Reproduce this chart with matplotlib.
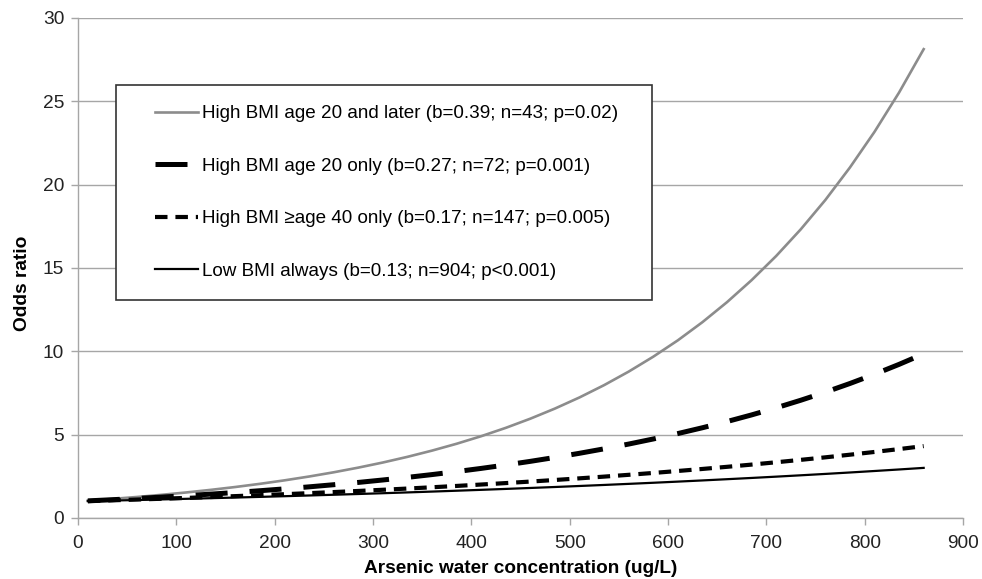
import matplotlib
matplotlib.use('Agg')
from matplotlib import pyplot as plt
from matplotlib.patches import Rectangle

plt.rcParams['font.family'] = ['Liberation Sans', 'DejaVu Sans']

# arsenic concentration (ug/L) and odds ratio values
arsenic = [10, 35, 60, 85, 110, 135, 160, 185, 210, 235, 260, 285, 310, 335, 360, 385,
           410, 435, 460, 485, 510, 535, 560, 585, 610, 635, 660, 685, 710, 735, 760,
           785, 810, 835, 860]

or_high_later = [1.04, 1.145, 1.262, 1.391, 1.532, 1.688, 1.86, 2.05, 2.259, 2.489, 2.742,
                 3.022, 3.329, 3.669, 4.043, 4.454, 4.908, 5.408, 5.959, 6.566, 7.234,
                 7.971, 8.783, 9.678, 10.66, 11.75, 12.95, 14.27, 15.72, 17.32, 19.08,
                 21.03, 23.17, 25.53, 28.13]
or_high_20 = [1.027, 1.098, 1.173, 1.254, 1.34, 1.432, 1.531, 1.636, 1.748, 1.869, 1.997,
              2.134, 2.281, 2.438, 2.605, 2.785, 2.976, 3.181, 3.399, 3.633, 3.883, 4.15,
              4.436, 4.741, 5.066, 5.415, 5.787, 6.185, 6.61, 7.065, 7.551, 8.07, 8.625,
              9.218, 9.851]
or_high_40 = [1.017, 1.061, 1.107, 1.155, 1.206, 1.258, 1.313, 1.37, 1.429, 1.491, 1.556,
              1.623, 1.694, 1.767, 1.844, 1.924, 2.008, 2.095, 2.186, 2.281, 2.38, 2.483,
              2.591, 2.703, 2.821, 2.943, 3.071, 3.204, 3.344, 3.489, 3.64, 3.798, 3.963,
              4.135, 4.315]
or_low = [1.013, 1.046, 1.08, 1.115, 1.151, 1.189, 1.227, 1.267, 1.308, 1.351, 1.395,
          1.44, 1.487, 1.535, 1.585, 1.637, 1.69, 1.745, 1.802, 1.86, 1.921, 1.983, 2.048,
          2.114, 2.183, 2.254, 2.328, 2.403, 2.481, 2.562, 2.645, 2.731, 2.82, 2.912, 3.007]

labels = ['High BMI age 20 and later (b=0.39; n=43; p=0.02)',
          'High BMI age 20 only (b=0.27; n=72; p=0.001)',
          'High BMI \u2265age 40 only (b=0.17; n=147; p=0.005)',
          'Low BMI always (b=0.13; n=904; p<0.001)']

x_ticks = [0, 100, 200, 300, 400, 500, 600, 700, 800, 900]
y_ticks = [0, 5, 10, 15, 20, 25, 30]

W, H = 982, 579
fig = plt.figure(figsize=(W / 100, H / 100), dpi=100)
ax = fig.add_axes([78 / W, 1 - 518 / H, 885 / W, 500 / H])

ax.plot(arsenic, or_high_later, color='#8c8c8c', lw=1.9, label=labels[0])
ax.plot(arsenic, or_high_20, color='black', lw=3.6, dashes=(6.4, 4.4), label=labels[1])
ax.plot(arsenic, or_high_40, color='black', lw=3.0, dashes=(3.0, 1.9), label=labels[2])
ax.plot(arsenic, or_low, color='black', lw=1.6, label=labels[3])

ax.set_xlim(0, 900)
ax.set_ylim(0, 30)
ax.set_xticks(x_ticks)
ax.set_yticks(y_ticks)
ax.yaxis.grid(True, color='#a6a6a6', lw=1.0)
ax.set_axisbelow(True)
for s in ['top', 'right']:
    ax.spines[s].set_visible(False)
for s in ['left', 'bottom']:
    ax.spines[s].set_color('#a6a6a6')
    ax.spines[s].set_linewidth(1.0)
ax.tick_params(axis='both', colors='#a6a6a6', labelcolor='#222222', labelsize=13.8,
               length=5, width=1.0, pad=5)
ax.tick_params(axis='x', pad=7)

ax.set_xlabel('Arsenic water concentration (ug/L)', fontsize=13.7, fontweight='bold',
              labelpad=6)
ax.set_ylabel('Odds ratio', fontsize=13.8, fontweight='bold')
ax.yaxis.label.set_verticalalignment('center')
ax.yaxis.set_label_coords((23 - 78) / 885, (518 - 283) / 500)

# legend frame drawn separately so the padding can match the original box
box = Rectangle((116 / W, 1 - 300 / H), 536 / W, 215 / H, transform=fig.transFigure,
                facecolor='white', edgecolor='#333333', lw=1.2, zorder=3, clip_on=False)
ax.add_patch(box)
leg = ax.legend(loc='upper left', bbox_to_anchor=(155 / W, 1 - 105 / H),
                bbox_transform=fig.transFigure, fontsize=13.6, frameon=False,
                handlelength=2.3, handletextpad=0.2, labelspacing=1.87,
                borderpad=0, borderaxespad=0)
leg.set_zorder(4)

plt.savefig('out.png', dpi=100)
plt.close()
